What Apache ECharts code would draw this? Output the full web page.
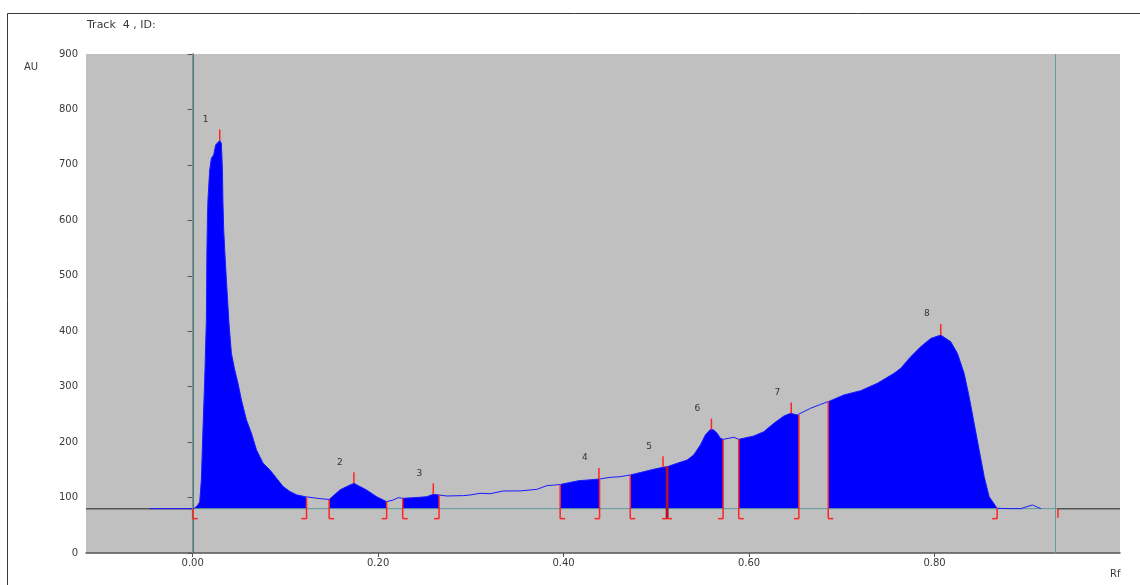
<!DOCTYPE html>
<html>
<head>
<meta charset="utf-8">
<script src="https://cdn.jsdelivr.net/npm/echarts@6/dist/echarts.min.js"></script>
<style>
  html, body { margin: 0; padding: 0; background: #ffffff; }
  #chart { width: 1140px; height: 585px; }
</style>
</head>
<body>
<div id="chart"></div>
<script>
// Densitometric scan of track 4: Rf position vs. absorbance (AU)
const scanRf = [
  -0.0464, 0.0000, 0.0022, 0.0054, 0.0076, 0.0094, 0.0111, 0.0130, 0.0148, 0.0154,
  0.0159, 0.0165, 0.0173, 0.0184, 0.0202, 0.0227, 0.0248, 0.0292, 0.0310, 0.0321,
  0.0327, 0.0335, 0.0346, 0.0364, 0.0392, 0.0418, 0.0454, 0.0489, 0.0526, 0.0580,
  0.0634, 0.0688, 0.0759, 0.0832, 0.0904, 0.0975, 0.1048, 0.1120, 0.1210, 0.1228,
  0.1350, 0.1472, 0.1587, 0.1663, 0.1739, 0.1803, 0.1876, 0.1984, 0.2092, 0.2163,
  0.2217, 0.2265, 0.2365, 0.2451, 0.2524, 0.2595, 0.2657, 0.2740, 0.2919, 0.2991,
  0.3099, 0.3207, 0.3351, 0.3531, 0.3712, 0.3820, 0.3891, 0.3963, 0.4161, 0.4287,
  0.4388, 0.4503, 0.4611, 0.4719, 0.4827, 0.4971, 0.5072, 0.5116, 0.5224, 0.5332,
  0.5403, 0.5475, 0.5529, 0.5583, 0.5619, 0.5656, 0.5691, 0.5720, 0.5781, 0.5835,
  0.5889, 0.6051, 0.6159, 0.6267, 0.6375, 0.6447, 0.6519, 0.6537, 0.6663, 0.6771,
  0.6854, 0.7023, 0.7203, 0.7383, 0.7563, 0.7635, 0.7743, 0.7851, 0.7959, 0.8067,
  0.8175, 0.8247, 0.8319, 0.8373, 0.8427, 0.8481, 0.8535, 0.8589, 0.8675, 0.8834,
  0.8931, 0.8985, 0.9057, 0.9104, 0.9147
];
const scanAU = [
  80, 80, 81, 86, 92, 132, 222, 312, 420, 546,
  601, 637, 661, 691, 712, 718, 736, 744, 739, 691,
  631, 583, 546, 492, 414, 360, 330, 306, 276, 240,
  216, 186, 162, 150, 135, 120, 111, 105, 101.6, 99,
  98.5, 96.5, 113.6, 120, 125.7, 120, 113.6, 101.6, 92.6, 95.6,
  99.8, 98.6, 99.5, 100.5, 101.6, 105.8, 104.6, 102.8, 103.5, 104.6,
  107.7, 107, 111.8, 112, 114.8, 121.5, 122.5, 123.5, 130.4, 132,
  133.5, 136.5, 137.6, 140.7, 145, 151, 154.6, 155.5, 161.8, 167.7,
  176.8, 194.8, 212.8, 223, 221.9, 215.9, 206.9, 205, 206.9, 208.7,
  205, 211, 218.8, 233.9, 247, 252, 249, 249, 261, 268,
  273, 285, 292.7, 306, 324, 333, 354, 372, 387, 393,
  381, 360, 324, 282, 234, 186, 138, 101.6, 80.6, 80,
  80, 83, 86.6, 83, 80
];

// Integration baseline and track limits
const baselineAU = 80;
const trackLimits = [0, 0.932];

// Integrated peaks
const peakNames = ['1', '2', '3', '4', '5', '6', '7', '8'];
const peakStart = [0.0000, 0.1472, 0.2265, 0.3963, 0.4719, 0.5116, 0.5889, 0.6854];
const peakEnd   = [0.1228, 0.2092, 0.2657, 0.4388, 0.5116, 0.5720, 0.6537, 0.8675];
const peakMax   = [0.0292, 0.1739, 0.2595, 0.4381, 0.5072, 0.5594, 0.6455, 0.8067];

// Axis ranges and tick labels
const rfRange = [-0.115, 1.0];
const rfTicks = [0, 0.2, 0.4, 0.6, 0.8];
const auRange = [0, 900];
const auStep = 100;

const RED = '#ff2424';
const DARK_RED = '#b0102c';
const FONT = 'DejaVu Sans';

function curveAt(x) {
  if (x <= scanRf[0]) return scanAU[0];
  for (let i = 1; i < scanRf.length; i++) {
    if (x <= scanRf[i]) {
      const t = (x - scanRf[i - 1]) / (scanRf[i] - scanRf[i - 1]);
      return scanAU[i - 1] + t * (scanAU[i] - scanAU[i - 1]);
    }
  }
  return scanAU[scanAU.length - 1];
}

const signal = scanRf.map((x, i) => [x, scanAU[i]]);

// Blue area between baseline and trace for each peak window
function renderFill(params, api) {
  const i = params.dataIndex;
  const s = peakStart[i], e = peakEnd[i];
  const pts = [api.coord([s, baselineAU]), api.coord([s, curveAt(s)])];
  scanRf.forEach((x, j) => {
    if (x > s && x < e) pts.push(api.coord([x, scanAU[j]]));
  });
  pts.push(api.coord([e, curveAt(e)]));
  pts.push(api.coord([e, baselineAU]));
  return {
    type: 'polygon',
    shape: { points: pts },
    style: { fill: '#0000ff', stroke: null }
  };
}

// Red integration brackets, maximum ticks and peak numbers
function renderMarks(params, api) {
  const i = params.dataIndex;
  const children = [];
  const normal = { stroke: RED, lineWidth: 1.5 };
  const shared = { stroke: DARK_RED, lineWidth: 2.5 };
  const sharedStart = i > 0 && peakEnd[i - 1] === peakStart[i];
  const sharedEnd = i < peakEnd.length - 1 && peakStart[i + 1] === peakEnd[i];
  [[peakStart[i], 1, sharedStart], [peakEnd[i], -1, sharedEnd]].forEach(([x, dir, isShared]) => {
    const st = isShared ? shared : normal;
    const b = api.coord([x, baselineAU]);
    const c = api.coord([x, curveAt(x)]);
    const foot = b[1] + 10;
    children.push({ type: 'line', shape: { x1: b[0], y1: c[1], x2: b[0], y2: foot }, style: st });
    children.push({ type: 'line', shape: { x1: b[0], y1: foot, x2: b[0] + dir * 5, y2: foot }, style: normal });
  });
  const m = api.coord([peakMax[i], curveAt(peakMax[i])]);
  children.push({ type: 'line', shape: { x1: m[0], y1: m[1], x2: m[0], y2: m[1] - 11 }, style: normal });
  children.push({
    type: 'text',
    style: {
      text: peakNames[i], x: m[0] - 14, y: m[1] - 21,
      fill: '#333333', font: '9px "' + FONT + '"',
      align: 'center', verticalAlign: 'middle'
    }
  });
  return { type: 'group', children };
}

// Right-hand end-of-track bracket
function renderTrackEnd(params, api) {
  const b = api.coord([trackLimits[1], baselineAU]);
  return {
    type: 'line',
    shape: { x1: b[0] + 1, y1: b[1], x2: b[0] + 1, y2: b[1] + 9 },
    style: { stroke: RED, lineWidth: 1.5 }
  };
}

const chart = echarts.init(document.getElementById('chart'), null, { renderer: 'canvas' });

chart.setOption({
  animation: false,
  backgroundColor: '#ffffff',
  textStyle: { fontFamily: FONT },
  grid: {
    left: 86, top: 54, right: 20, bottom: 32,
    show: true, backgroundColor: '#c0c0c0', borderWidth: 0
  },
  graphic: [
    {
      type: 'rect', silent: true, z: 100,
      shape: { x: 7.5, y: 13.5, width: 1200, height: 700 },
      style: { fill: null, stroke: '#3a3a3a', lineWidth: 1 }
    },
    { type: 'text', left: 87, top: 20, style: { text: 'Track  4 , ID:', fill: '#3a3a3a', font: '11px "' + FONT + '"' } },
    { type: 'text', left: 24, top: 62, style: { text: 'AU', fill: '#3a3a3a', font: '10px "' + FONT + '"' } },
    { type: 'text', left: 1110, top: 569, style: { text: 'Rf', fill: '#3a3a3a', font: '10px "' + FONT + '"' } }
  ],
  xAxis: {
    type: 'value',
    min: rfRange[0], max: rfRange[1],
    axisLine: { show: true, onZero: false, lineStyle: { color: '#555555', width: 1.5 } },
    axisTick: { show: true, customValues: rfTicks, length: 4, lineStyle: { color: '#555555' } },
    axisLabel: {
      customValues: rfTicks, margin: 5,
      formatter: v => v.toFixed(2),
      color: '#3a3a3a', fontSize: 10, fontFamily: FONT
    },
    splitLine: { show: false }
  },
  yAxis: {
    type: 'value',
    min: auRange[0], max: auRange[1], interval: auStep,
    axisLine: { show: true, lineStyle: { color: '#555555', width: 1.5 } },
    axisTick: { show: true, length: 5, lineStyle: { color: '#555555' } },
    axisLabel: { margin: 8, color: '#3a3a3a', fontSize: 10, fontFamily: FONT },
    splitLine: { show: false }
  },
  series: [
    {
      type: 'custom', name: 'peak areas', z: 2,
      renderItem: renderFill,
      data: peakMax.map(x => [x, curveAt(x)])
    },
    {
      type: 'line', name: 'baseline (outside track)', z: 3,
      showSymbol: false, silent: true,
      lineStyle: { color: '#555555', width: 1.5 },
      data: [[rfRange[0], baselineAU], [trackLimits[0], baselineAU], null,
             [trackLimits[1], baselineAU], [rfRange[1], baselineAU]],
      connectNulls: false
    },
    {
      type: 'line', name: 'baseline', z: 3,
      showSymbol: false, silent: true,
      lineStyle: { color: '#5e9a9a', width: 1 },
      data: [[trackLimits[0], baselineAU], [trackLimits[1], baselineAU]]
    },
    {
      type: 'line', name: 'scan', z: 4,
      showSymbol: false, silent: true,
      lineStyle: { color: '#1a1aff', width: 1 },
      data: signal,
      markLine: {
        silent: true, symbol: 'none', label: { show: false },
        lineStyle: { color: '#5f9ea0', width: 1, type: 'solid' },
        data: trackLimits.map(x => ({ xAxis: x }))
      }
    },
    {
      type: 'custom', name: 'integration marks', z: 5,
      renderItem: renderMarks,
      data: peakMax.map(x => [x, curveAt(x)])
    },
    {
      type: 'custom', name: 'track end', z: 5,
      renderItem: renderTrackEnd,
      data: [[trackLimits[1], baselineAU]]
    }
  ]
});
</script>
</body>
</html>
